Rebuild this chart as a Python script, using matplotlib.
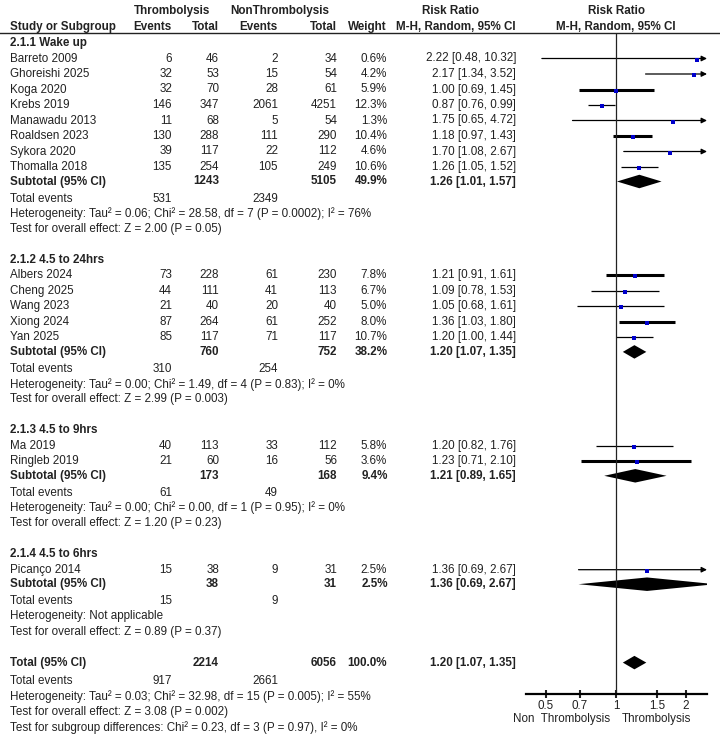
import numpy as np
import matplotlib.pyplot as plt

plt.rcParams['font.family'] = ['Liberation Sans', 'DejaVu Sans']

# ---- data ----
groups = ["2.1.1 Wake up", "2.1.2 4.5 to 24hrs", "2.1.3 4.5 to 9hrs", "2.1.4 4.5 to 6hrs"]

study_names = [
    ["Barreto 2009", "Ghoreishi 2025", "Koga 2020", "Krebs 2019", "Manawadu 2013",
     "Roaldsen 2023", "Sykora 2020", "Thomalla 2018"],
    ["Albers 2024", "Cheng 2025", "Wang 2023", "Xiong 2024", "Yan 2025"],
    ["Ma 2019", "Ringleb 2019"],
    ["Picanço 2014"],
]
events_t = [[6, 32, 32, 146, 11, 130, 39, 135], [73, 44, 21, 87, 85], [40, 21], [15]]
total_t = [[46, 53, 70, 347, 68, 288, 117, 254], [228, 111, 40, 264, 117], [113, 60], [38]]
events_c = [[2, 15, 28, 2061, 5, 111, 22, 105], [61, 41, 20, 61, 71], [33, 16], [9]]
total_c = [[34, 54, 61, 4251, 54, 290, 112, 249], [230, 113, 40, 252, 117], [112, 56], [31]]
weights = [[0.6, 4.2, 5.9, 12.3, 1.3, 10.4, 4.6, 10.6], [7.8, 6.7, 5.0, 8.0, 10.7], [5.8, 3.6], [2.5]]
rr = [[2.22, 2.17, 1.00, 0.87, 1.75, 1.18, 1.70, 1.26], [1.21, 1.09, 1.05, 1.36, 1.20], [1.20, 1.23], [1.36]]
rr_lo = [[0.48, 1.34, 0.69, 0.76, 0.65, 0.97, 1.08, 1.05], [0.91, 0.78, 0.68, 1.03, 1.00], [0.82, 0.71], [0.69]]
rr_hi = [[10.32, 3.52, 1.45, 0.99, 4.72, 1.43, 2.67, 1.52], [1.61, 1.53, 1.61, 1.80, 1.44], [1.76, 2.10], [2.67]]

sub_total_t = [1243, 760, 173, 38]
sub_total_c = [5105, 752, 168, 31]
sub_weight = [49.9, 38.2, 9.4, 2.5]
sub_rr = [1.26, 1.20, 1.21, 1.36]
sub_lo = [1.01, 1.07, 0.89, 0.69]
sub_hi = [1.57, 1.35, 1.65, 2.67]
sub_events_t = [531, 310, 61, 15]
sub_events_c = [2349, 254, 49, 9]
sub_het = [
    "Heterogeneity: Tau² = 0.06; Chi² = 28.58, df = 7 (P = 0.0002); I² = 76%",
    "Heterogeneity: Tau² = 0.00; Chi² = 1.49, df = 4 (P = 0.83); I² = 0%",
    "Heterogeneity: Tau² = 0.00; Chi² = 0.00, df = 1 (P = 0.95); I² = 0%",
    "Heterogeneity: Not applicable",
]
sub_test = [
    "Test for overall effect: Z = 2.00 (P = 0.05)",
    "Test for overall effect: Z = 2.99 (P = 0.003)",
    "Test for overall effect: Z = 1.20 (P = 0.23)",
    "Test for overall effect: Z = 0.89 (P = 0.37)",
]

overall_n = [2214, 6056]
overall_events = [917, 2661]
overall_rr = [1.20, 1.07, 1.35]
overall_notes = [
    "Heterogeneity: Tau² = 0.03; Chi² = 32.98, df = 15 (P = 0.005); I² = 55%",
    "Test for overall effect: Z = 3.08 (P = 0.002)",
    "Test for subgroup differences: Chi² = 0.23, df = 3 (P = 0.97), I² = 0%",
]

ticks = [0.5, 0.7, 1, 1.5, 2]
tick_labels = ["0.5", "0.7", "1", "1.5", "2"]

# rows drawn with the heavier CI stroke in the original render
thick_rows = {"Koga 2020", "Roaldsen 2023", "Albers 2024", "Xiong 2024", "Ringleb 2019"}

# ---- layout (pixels) ----
W, H = 720, 739
FS = 8.4
TXT = "#222222"
BLUE = "#0000CC"
x_name = 10
x_ev_t, x_n_t, x_ev_c, x_n_c, x_w, x_rr = 172, 219, 278, 337, 387, 516
plot_l, plot_r, x_one, px_per_ln = 526, 707, 616, 101.0
axis_y, rule_y = 694, 33

fig = plt.figure(figsize=(W / 100, H / 100), dpi=100)
tax = fig.add_axes([0, 0, 1, 1])
tax.set_xlim(0, W)
tax.set_ylim(H, 0)
tax.axis("off")

fax = fig.add_axes([plot_l / W, 1 - axis_y / H, (plot_r - plot_l) / W, (axis_y - rule_y) / H])
fax.set_facecolor("none")
fax.set_xscale("log")
xmin = np.exp((plot_l - x_one) / px_per_ln)
xmax = np.exp((plot_r - x_one) / px_per_ln)
fax.set_xlim(xmin, xmax)
fax.set_ylim(axis_y, rule_y)


def txt(x, y, s, ha="left", bold=False):
    tax.text(x, y, s, ha=ha, va="center", fontsize=FS, color=TXT,
             fontweight="bold" if bold else "normal")


def diamond(est, lo, hi, y, h=13.5):
    fax.fill([lo, est, hi, est], [y, y - h / 2, y, y + h / 2], color="black", lw=0)


def ci_line(est, lo, hi, y, w, lw):
    if hi > xmax:
        fax.annotate("", xy=(xmax, y), xytext=(lo, y), zorder=2,
                     arrowprops=dict(arrowstyle="-|>", lw=lw, color="black",
                                     shrinkA=0, shrinkB=0, mutation_scale=8))
    else:
        fax.plot([lo, hi], [y, y], color="black", lw=lw, solid_capstyle="butt", zorder=2)
    fax.plot(est, y + 1, marker="s", color=BLUE, ms=(3.0 + 0.13 * w) * 0.72, mew=0, zorder=5)


# header
txt(172, 11, "Thrombolysis", ha="center", bold=True)
txt(280, 11, "NonThrombolysis", ha="center", bold=True)
txt(451, 11, "Risk Ratio", ha="center", bold=True)
txt(616, 11, "Risk Ratio", ha="center", bold=True)
txt(x_name, 27, "Study or Subgroup", bold=True)
txt(x_ev_t, 27, "Events", ha="right", bold=True)
txt(x_n_t, 27, "Total", ha="right", bold=True)
txt(x_ev_c, 27, "Events", ha="right", bold=True)
txt(x_n_c, 27, "Total", ha="right", bold=True)
txt(x_w, 27, "Weight", ha="right", bold=True)
txt(x_rr, 27, "M-H, Random, 95% CI", ha="right", bold=True)
txt(616, 27, "M-H, Random, 95% CI", ha="center", bold=True)
tax.plot([0, W], [rule_y, rule_y], color=TXT, lw=1)

y = 43.0
for g, gname in enumerate(groups):
    txt(x_name, y, gname, bold=True)
    y += 15.5
    for i, name in enumerate(study_names[g]):
        txt(x_name, y, name)
        txt(x_ev_t, y, str(events_t[g][i]), ha="right")
        txt(x_n_t, y, str(total_t[g][i]), ha="right")
        txt(x_ev_c, y, str(events_c[g][i]), ha="right")
        txt(x_n_c, y, str(total_c[g][i]), ha="right")
        txt(x_w, y, f"{weights[g][i]:.1f}%", ha="right")
        txt(x_rr, y, f"{rr[g][i]:.2f} [{rr_lo[g][i]:.2f}, {rr_hi[g][i]:.2f}]", ha="right")
        ci_line(rr[g][i], rr_lo[g][i], rr_hi[g][i], y, weights[g][i],
                2.2 if name in thick_rows else 0.9)
        y += 15.5
    y -= 1.0
    txt(x_name, y, "Subtotal (95% CI)", bold=True)
    txt(x_n_t, y, str(sub_total_t[g]), ha="right", bold=True)
    txt(x_n_c, y, str(sub_total_c[g]), ha="right", bold=True)
    txt(x_w + 1, y, f"{sub_weight[g]:.1f}%", ha="right", bold=True)
    txt(x_rr, y, f"{sub_rr[g]:.2f} [{sub_lo[g]:.2f}, {sub_hi[g]:.2f}]", ha="right", bold=True)
    diamond(sub_rr[g], sub_lo[g], sub_hi[g], y)
    y += 17
    txt(x_name, y, "Total events")
    txt(x_ev_t, y, str(sub_events_t[g]), ha="right")
    txt(x_ev_c, y, str(sub_events_c[g]), ha="right")
    y += 15.2
    txt(x_name, y, sub_het[g])
    y += 15.2
    txt(x_name, y, sub_test[g])
    y += 31

txt(x_name, y, "Total (95% CI)", bold=True)
txt(x_n_t, y, str(overall_n[0]), ha="right", bold=True)
txt(x_n_c, y, str(overall_n[1]), ha="right", bold=True)
txt(x_w, y, "100.0%", ha="right", bold=True)
txt(x_rr, y, f"{overall_rr[0]:.2f} [{overall_rr[1]:.2f}, {overall_rr[2]:.2f}]", ha="right", bold=True)
diamond(overall_rr[0], overall_rr[1], overall_rr[2], y)
y += 18
txt(x_name, y, "Total events")
txt(x_ev_t, y, str(overall_events[0]), ha="right")
txt(x_ev_c, y, str(overall_events[1]), ha="right")
for note in overall_notes:
    y += 15.6
    txt(x_name, y, note)

# forest axis
fax.axvline(1, color=TXT, lw=0.9)
for side in ("top", "left", "right"):
    fax.spines[side].set_visible(False)
fax.spines["bottom"].set_linewidth(1.6)
fax.set_yticks([])
fax.set_xticks(ticks)
fax.set_xticklabels(tick_labels)
fax.xaxis.set_minor_locator(plt.NullLocator())
fax.tick_params(axis="x", direction="inout", length=6, width=1.5, labelsize=FS,
                pad=1, colors=TXT)
txt(562, 719, "Non  Thrombolysis", ha="center")
txt(656, 719, "Thrombolysis", ha="center")

fig.savefig("out.png", dpi=100)
